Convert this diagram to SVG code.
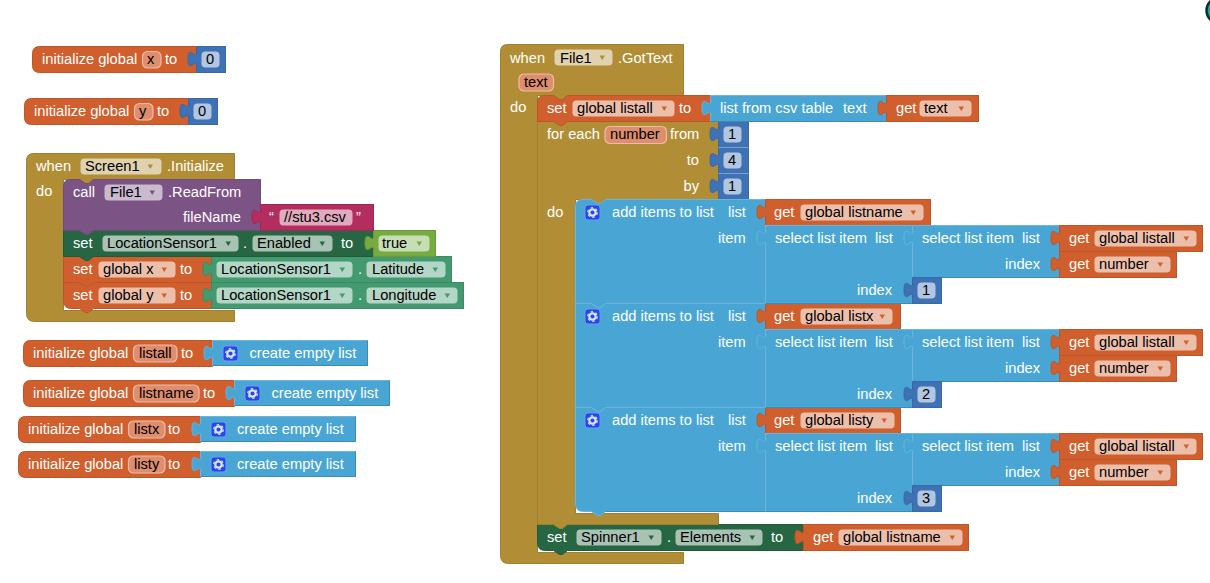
<svg xmlns="http://www.w3.org/2000/svg" width="1210" height="583" viewBox="0 0 1210 583">
<style>
text{font-family:"Liberation Sans",Arial,sans-serif;font-size:14.67px;fill:#fff;transform:translate(-.5px,-.5px)}
text.k{fill:#000}
text.m{text-anchor:middle}
text.e{text-anchor:end}
.or{fill:#D05F2D;stroke:#BC5629}
.bl{fill:#3F71B5;stroke:#3A68A6}
.ls{fill:#49A6D4;stroke:#6BB4DA}
.gd{fill:#B18E35;stroke:#A08030}
.pu{fill:#7C5385;stroke:#6F4B78}
.mg{fill:#B32D5E;stroke:#A02954}
.dg{fill:#266643;stroke:#215A3B}
.lg{fill:#77AB41;stroke:#6B9A3B}
.pg{fill:#439970;stroke:#3C8A65}
.f{fill:#fff;fill-opacity:.6;stroke:none}
.v{fill:#DE8D6E;stroke:#EEBDA7;stroke-width:1.2}
.afo{fill:#D05F2D}
.afg{fill:#B18E35}.afp{fill:#7C5385}.afd{fill:#266643}.afl{fill:#77AB41}.afn{fill:#439970}
.seam{stroke:#7F9FCC;fill:none}
.edge{stroke:#3D8BB3;fill:none}
</style>
<defs>
<path id="tab" d="M.5 5c0 10-9-8-9 7.500s9-2.500 9 7.500"/>
<path id="arr" d="M0 0h5.500l-2.750 4.500z" stroke="none"/>
<g id="gear">
<rect x=".5" y=".5" width="15" height="15" rx="3" fill="#2348EE" stroke="#6F9AE8"/>
<circle cx="8" cy="8" r="3.200" fill="none" stroke="#DCE6FA" stroke-width="2.200"/>
<circle cx="8" cy="8" r="4.800" fill="none" stroke="#DCE6FA" stroke-width="1.200" stroke-dasharray="2.500 2.530"/>
</g>
</defs>
<g transform="translate(.5 .5)">
<g id="screen-corner"><circle cx="1219" cy="10" r="13" fill="#1FA58F" stroke="#0C2F33" stroke-width="2.500"/><circle cx="1219" cy="10" r="9" fill="#fff"/></g>

<g id="init-x">
<path class="or" d="M39 46H196V72H39Q32 72 32 65V53Q32 46 39 46Z"/>
<text x="42" y="64">initialize global</text>
<rect class="v" x="142" y="51" width="18.500" height="16.500" rx="5"/><text class="k" x="147" y="64">x</text>
<text x="165" y="64">to</text>
<rect class="bl" x="196" y="46" width="29" height="26"/><use href="#tab" class="bl" x="196" y="46"/>
<rect class="f" x="201" y="51" width="18" height="16" rx="4"/><text class="k m" x="210" y="64">0</text>
</g>

<g id="init-y">
<path class="or" d="M31 98H188V124H31Q24 124 24 117V105Q24 98 31 98Z"/>
<text x="34" y="116">initialize global</text>
<rect class="v" x="134" y="103" width="18.500" height="16.500" rx="5"/><text class="k" x="139" y="116">y</text>
<text x="157" y="116">to</text>
<rect class="bl" x="188" y="98" width="29" height="26"/><use href="#tab" class="bl" x="188" y="98"/>
<rect class="f" x="193" y="103" width="18" height="16" rx="4"/><text class="k m" x="202" y="116">0</text>
</g>

<g id="screen1-initialize">
<path class="gd" d="M26 160Q26 153 33 153H234V179H93l-5 4h-3l-6-4H63V310H234V321H34Q26 321 26 313Z"/>
<text x="36" y="171">when</text>
<rect class="f" x="80" y="158" width="81" height="16" rx="4"/><text class="k" x="85" y="171">Screen1</text><use href="#arr" class="afg" x="147" y="164"/>
<text x="167" y="171">.Initialize</text>
<text x="36" y="196">do</text>
</g>

<g id="set-global-y">
<path class="or" d="M63 282H79l6 4h3l5-4H211V308H93l-5 4h-3l-6-4H71Q63 308 63 300Z"/>
<text x="73" y="300">set</text>
<rect class="f" x="98" y="287" width="77" height="16" rx="4"/><text class="k" x="103" y="300">global y</text><use href="#arr" class="afo" x="161" y="293"/>
<text x="180" y="300">to</text>
<rect class="pg" x="211" y="282" width="252" height="26"/><use href="#tab" class="pg" x="211" y="282"/>
<rect class="f" x="216" y="287" width="136" height="16" rx="4"/><text class="k" x="221" y="300">LocationSensor1</text><use href="#arr" class="afn" x="339" y="293"/>
<text x="358" y="300">.</text>
<rect class="f" x="366" y="287" width="91" height="16" rx="4"/><text class="k" x="372" y="300">Longitude</text><use href="#arr" class="afn" x="444" y="293"/>
</g>

<g id="set-global-x">
<path class="or" d="M63 256H79l6 4h3l5-4H211V282H93l-5 4h-3l-6-4H63Z"/>
<text x="73" y="274">set</text>
<rect class="f" x="98" y="261" width="77" height="16" rx="4"/><text class="k" x="103" y="274">global x</text><use href="#arr" class="afo" x="161" y="267"/>
<text x="180" y="274">to</text>
<rect class="pg" x="211" y="256" width="240" height="26"/><use href="#tab" class="pg" x="211" y="256"/>
<rect class="f" x="216" y="261" width="136" height="16" rx="4"/><text class="k" x="221" y="274">LocationSensor1</text><use href="#arr" class="afn" x="339" y="267"/>
<text x="358" y="274">.</text>
<rect class="f" x="366" y="261" width="79" height="16" rx="4"/><text class="k" x="372" y="274">Latitude</text><use href="#arr" class="afn" x="432" y="267"/>
</g>

<g id="set-enabled">
<path class="dg" d="M63 230H79l6 4h3l5-4H373V256H93l-5 4h-3l-6-4H63Z"/>
<text x="73" y="248">set</text>
<rect class="f" x="102" y="235" width="136" height="16" rx="4"/><text class="k" x="107" y="248">LocationSensor1</text><use href="#arr" class="afd" x="225" y="241"/>
<text x="243" y="248">.</text>
<rect class="f" x="252" y="235" width="80" height="16" rx="4"/><text class="k" x="257" y="248">Enabled</text><use href="#arr" class="afd" x="319" y="241"/>
<text x="341" y="248">to</text>
<rect class="lg" x="373" y="230" width="62" height="26"/><use href="#tab" class="lg" x="373" y="230"/>
<rect class="f" x="378" y="235" width="51" height="16" rx="4"/><text class="k" x="382" y="248">true</text><use href="#arr" class="afl" x="416" y="241"/>
</g>

<g id="call-readfrom">
<path class="pu" d="M63 186Q63 179 70 179H79l6 4h3l5-4H260V230H93l-5 4h-3l-6-4H63Z"/>
<text x="73" y="197">call</text>
<rect class="f" x="104" y="184" width="58" height="16" rx="4"/><text class="k" x="110" y="197">File1</text><use href="#arr" class="afp" x="149" y="190"/>
<text x="168" y="197">.ReadFrom</text>
<text x="183" y="222">fileName</text>
<rect class="mg" x="260" y="204" width="113" height="26"/><use href="#tab" class="mg" x="260" y="204"/>
<text x="269" y="222">“</text>
<rect class="f" x="279" y="209" width="73" height="16" rx="4"/><text class="k" x="284" y="222">//stu3.csv</text>
<text x="356" y="222">”</text>
</g>

<g id="init-listall">
<path class="or" d="M30 340H212V366H30Q23 366 23 359V347Q23 340 30 340Z"/>
<text x="33" y="358">initialize global</text>
<rect class="v" x="133" y="344.500" width="43.500" height="17" rx="5"/><text class="k" x="139" y="358">listall</text>
<text x="181" y="358">to</text>
<rect class="ls" x="212" y="340" width="155" height="25"/><use href="#tab" class="ls" x="212" y="340"/>
<path class="edge" d="M212 365H367V340"/>
<use href="#gear" x="222" y="345"/><text x="249.500" y="358">create empty list</text>
</g>

<g id="init-listname">
<path class="or" d="M30 380H234V406H30Q23 406 23 399V387Q23 380 30 380Z"/>
<text x="33" y="398">initialize global</text>
<rect class="v" x="133" y="384.500" width="65.500" height="17" rx="5"/><text class="k" x="139" y="398">listname</text>
<text x="203" y="398">to</text>
<rect class="ls" x="234" y="380" width="155" height="25"/><use href="#tab" class="ls" x="234" y="380"/>
<path class="edge" d="M234 405H389V380"/>
<use href="#gear" x="244" y="385"/><text x="271.500" y="398">create empty list</text>
</g>

<g id="init-listx">
<path class="or" d="M25 416H200V442H25Q18 442 18 435V423Q18 416 25 416Z"/>
<text x="28" y="434">initialize global</text>
<rect class="v" x="128" y="420.500" width="36.500" height="17" rx="5"/><text class="k" x="134" y="434">listx</text>
<text x="168" y="434">to</text>
<rect class="ls" x="200" y="416" width="155" height="25"/><use href="#tab" class="ls" x="200" y="416"/>
<path class="edge" d="M200 441H355V416"/>
<use href="#gear" x="210" y="421"/><text x="237" y="434">create empty list</text>
</g>

<g id="init-listy">
<path class="or" d="M25 451H200V477H25Q18 477 18 470V458Q18 451 25 451Z"/>
<text x="28" y="469">initialize global</text>
<rect class="v" x="128" y="455.500" width="36.500" height="17" rx="5"/><text class="k" x="134" y="469">listy</text>
<text x="168" y="469">to</text>
<rect class="ls" x="200" y="451" width="155" height="25"/><use href="#tab" class="ls" x="200" y="451"/>
<path class="edge" d="M200 476H355V451"/>
<use href="#gear" x="210" y="456"/><text x="237" y="469">create empty list</text>
</g>

<g id="file1-gottext">
<path class="gd" d="M500 51Q500 44 507 44H683V95H567l-5 4h-3l-6-4H537V552H683V563H508Q500 563 500 555Z"/>
<text x="510" y="63">when</text>
<rect class="f" x="554" y="49" width="58" height="16" rx="4"/><text class="k" x="560" y="63">File1</text><use href="#arr" class="afg" x="599" y="55"/>
<text x="618" y="63">.GotText</text>
<rect class="v" x="518.500" y="73.500" width="34.500" height="17" rx="5"/><text class="k" x="524" y="87">text</text>
<text x="510" y="112">do</text>
</g>

<g id="set-spinner-elements">
<path class="dg" d="M537 524H553l6 4h3l5-4H803V550H567l-5 4h-3l-6-4H545Q537 550 537 542Z"/>
<text x="547" y="542">set</text>
<rect class="f" x="576" y="529" width="85" height="16" rx="4"/><text class="k" x="581" y="542">Spinner1</text><use href="#arr" class="afd" x="648" y="535"/>
<text x="667" y="542">.</text>
<rect class="f" x="675" y="529" width="87" height="16" rx="4"/><text class="k" x="680" y="542">Elements</text><use href="#arr" class="afd" x="749" y="535"/>
<text x="771" y="542">to</text>
<rect class="or" x="803" y="524" width="165" height="26"/><use href="#tab" class="or" x="803" y="524"/>
<text x="813" y="542">get</text>
<rect class="f" x="838" y="529" width="124" height="16" rx="4"/><text class="k" x="843" y="542">global listname</text><use href="#arr" class="afo" x="949" y="535"/>
</g>

<g id="for-each">
<path class="gd" d="M537 121H553l6 4h3l5-4H718V199H605l-5 4h-3l-6-4H575V513H718V524H567l-5 4h-3l-6-4H537Z"/>
<text x="547" y="139">for each</text>
<rect class="v" x="604.500" y="126" width="61.500" height="17" rx="5"/><text class="k" x="610" y="139">number</text>
<text x="670" y="139">from</text>
<text class="e" x="699" y="165">to</text>
<text class="e" x="699" y="191">by</text>
<text x="547" y="217">do</text>
<rect class="bl" x="718" y="121" width="30" height="26"/><use href="#tab" class="bl" x="718" y="121"/>
<rect class="f" x="723" y="126" width="18" height="16" rx="4"/><text class="k m" x="732" y="139">1</text>
<rect class="bl" x="718" y="147" width="30" height="26"/><use href="#tab" class="bl" x="718" y="147"/>
<rect class="f" x="723" y="152" width="18" height="16" rx="4"/><text class="k m" x="732" y="165">4</text>
<rect class="bl" x="718" y="173" width="30" height="26"/><use href="#tab" class="bl" x="718" y="173"/>
<rect class="f" x="723" y="178" width="18" height="16" rx="4"/><text class="k m" x="732" y="191">1</text>
<path class="seam" d="M718 147H748M718 173H748"/>
</g>

<g id="add-items-listy" transform="translate(0 208)">
<path class="ls" d="M575 199H591l6 4h3l5-4H765V303H605l-5 4h-3l-6-4H583Q575 303 575 295Z"/>
<path class="edge" d="M605 303H765"/>
<use href="#gear" x="584" y="204"/>
<text x="612" y="217">add items to list</text><text x="728" y="217">list</text><text x="718" y="243">item</text>
<rect class="or" x="765" y="199" width="135" height="26"/><use href="#tab" class="or" x="765" y="199"/>
<text x="774" y="217">get</text>
<rect class="f" x="800" y="204" width="94" height="16" rx="4"/><text class="k" x="805" y="217">global listy</text><use href="#arr" class="afo" x="881" y="210"/>
<rect class="ls" x="765" y="225" width="147" height="78"/><use href="#tab" class="ls" x="765" y="225"/>
<path class="edge" d="M765 303H912"/>
<text x="775" y="243">select list item</text><text x="875" y="243">list</text><text x="857" y="295">index</text>
<rect class="ls" x="912" y="225" width="147" height="52"/><use href="#tab" class="ls" x="912" y="225"/>
<path class="edge" d="M912 277H1059"/>
<text x="922" y="243">select list item</text><text x="1022" y="243">list</text><text x="1005" y="269">index</text>
<rect class="or" x="1059" y="225" width="143" height="26"/><use href="#tab" class="or" x="1059" y="225"/>
<text x="1069" y="243">get</text>
<rect class="f" x="1094" y="230" width="102" height="16" rx="4"/><text class="k" x="1099" y="243">global listall</text><use href="#arr" class="afo" x="1183" y="236"/>
<rect class="or" x="1059" y="251" width="117" height="26"/><use href="#tab" class="or" x="1059" y="251"/>
<text x="1069" y="269">get</text>
<rect class="f" x="1094" y="256" width="76" height="16" rx="4"/><text class="k" x="1099" y="269">number</text><use href="#arr" class="afo" x="1157" y="262"/>
<rect class="bl" x="912" y="277" width="29" height="26"/><use href="#tab" class="bl" x="912" y="277"/>
<rect class="f" x="917" y="282" width="18" height="16" rx="4"/><text class="k m" x="926" y="295">3</text>
</g>

<g id="add-items-listx" transform="translate(0 104)">
<path class="ls" d="M575 199H591l6 4h3l5-4H765V303H605l-5 4h-3l-6-4H575Z"/>
<use href="#gear" x="584" y="204"/>
<text x="612" y="217">add items to list</text><text x="728" y="217">list</text><text x="718" y="243">item</text>
<rect class="or" x="765" y="199" width="135" height="26"/><use href="#tab" class="or" x="765" y="199"/>
<text x="774" y="217">get</text>
<rect class="f" x="800" y="204" width="92" height="16" rx="4"/><text class="k" x="805" y="217">global listx</text><use href="#arr" class="afo" x="879" y="210"/>
<rect class="ls" x="765" y="225" width="147" height="78"/><use href="#tab" class="ls" x="765" y="225"/>
<path class="edge" d="M765 303H912"/>
<text x="775" y="243">select list item</text><text x="875" y="243">list</text><text x="857" y="295">index</text>
<rect class="ls" x="912" y="225" width="147" height="52"/><use href="#tab" class="ls" x="912" y="225"/>
<path class="edge" d="M912 277H1059"/>
<text x="922" y="243">select list item</text><text x="1022" y="243">list</text><text x="1005" y="269">index</text>
<rect class="or" x="1059" y="225" width="143" height="26"/><use href="#tab" class="or" x="1059" y="225"/>
<text x="1069" y="243">get</text>
<rect class="f" x="1094" y="230" width="102" height="16" rx="4"/><text class="k" x="1099" y="243">global listall</text><use href="#arr" class="afo" x="1183" y="236"/>
<rect class="or" x="1059" y="251" width="117" height="26"/><use href="#tab" class="or" x="1059" y="251"/>
<text x="1069" y="269">get</text>
<rect class="f" x="1094" y="256" width="76" height="16" rx="4"/><text class="k" x="1099" y="269">number</text><use href="#arr" class="afo" x="1157" y="262"/>
<rect class="bl" x="912" y="277" width="29" height="26"/><use href="#tab" class="bl" x="912" y="277"/>
<rect class="f" x="917" y="282" width="18" height="16" rx="4"/><text class="k m" x="926" y="295">2</text>
</g>

<g id="add-items-listname">
<path class="ls" d="M575 206Q575 199 582 199H591l6 4h3l5-4H765V303H605l-5 4h-3l-6-4H575Z"/>
<use href="#gear" x="584" y="204"/>
<text x="612" y="217">add items to list</text><text x="728" y="217">list</text><text x="718" y="243">item</text>
<rect class="or" x="765" y="199" width="165" height="26"/><use href="#tab" class="or" x="765" y="199"/>
<text x="774" y="217">get</text>
<rect class="f" x="800" y="204" width="123" height="16" rx="4"/><text class="k" x="805" y="217">global listname</text><use href="#arr" class="afo" x="910" y="210"/>
<rect class="ls" x="765" y="225" width="147" height="78"/><use href="#tab" class="ls" x="765" y="225"/>
<path class="edge" d="M765 303H912"/>
<text x="775" y="243">select list item</text><text x="875" y="243">list</text><text x="857" y="295">index</text>
<rect class="ls" x="912" y="225" width="147" height="52"/><use href="#tab" class="ls" x="912" y="225"/>
<path class="edge" d="M912 277H1059"/>
<text x="922" y="243">select list item</text><text x="1022" y="243">list</text><text x="1005" y="269">index</text>
<rect class="or" x="1059" y="225" width="143" height="26"/><use href="#tab" class="or" x="1059" y="225"/>
<text x="1069" y="243">get</text>
<rect class="f" x="1094" y="230" width="102" height="16" rx="4"/><text class="k" x="1099" y="243">global listall</text><use href="#arr" class="afo" x="1183" y="236"/>
<rect class="or" x="1059" y="251" width="117" height="26"/><use href="#tab" class="or" x="1059" y="251"/>
<text x="1069" y="269">get</text>
<rect class="f" x="1094" y="256" width="76" height="16" rx="4"/><text class="k" x="1099" y="269">number</text><use href="#arr" class="afo" x="1157" y="262"/>
<rect class="bl" x="912" y="277" width="29" height="26"/><use href="#tab" class="bl" x="912" y="277"/>
<rect class="f" x="917" y="282" width="18" height="16" rx="4"/><text class="k m" x="926" y="295">1</text>
</g>

<g id="set-global-listall">
<path class="or" d="M537 102Q537 95 544 95H553l6 4h3l5-4H710V121H567l-5 4h-3l-6-4H537Z"/>
<text x="547" y="113">set</text>
<rect class="f" x="572" y="100" width="102" height="16" rx="4"/><text class="k" x="577" y="113">global listall</text><use href="#arr" class="afo" x="661" y="106"/>
<text x="679" y="113">to</text>
<rect class="ls" x="710" y="95" width="176" height="26"/><use href="#tab" class="ls" x="710" y="95"/>
<path class="edge" d="M710 121H886"/>
<text x="720" y="113">list from csv table</text><text x="843" y="113">text</text>
<rect class="or" x="886" y="95" width="92" height="26"/><use href="#tab" class="or" x="886" y="95"/>
<text x="896" y="113">get</text>
<rect class="f" x="919" y="100" width="52" height="16" rx="4"/><text class="k" x="924" y="113">text</text><use href="#arr" class="afo" x="958" y="106"/>
</g>
</g>
</svg>
